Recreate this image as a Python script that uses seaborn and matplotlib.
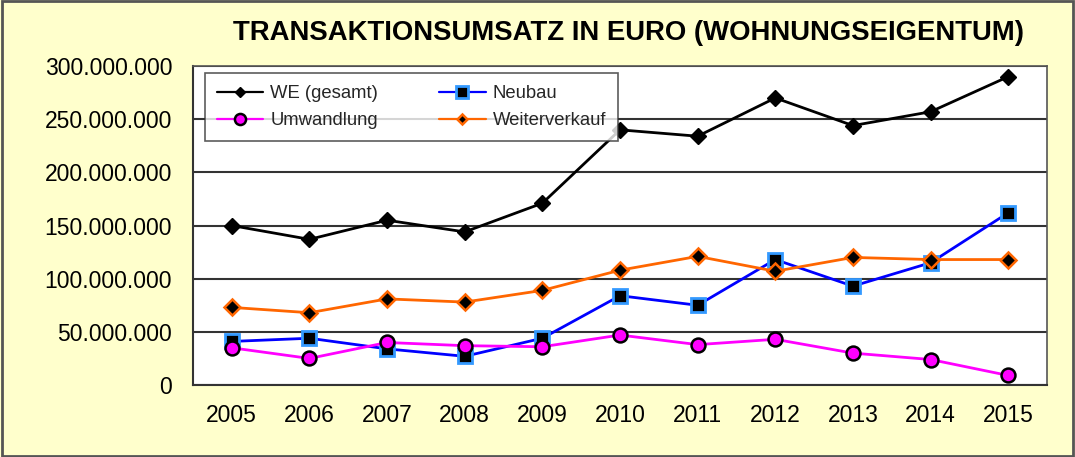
import matplotlib
matplotlib.use("Agg")
import matplotlib.pyplot as plt
from matplotlib.ticker import FuncFormatter, FixedLocator
from matplotlib.patches import Rectangle
import seaborn as sns
import pandas as pd
import numpy as np

years = ["2005", "2006", "2007", "2008", "2009", "2010", "2011", "2012", "2013", "2014", "2015"]
we_gesamt = [150e6, 137e6, 155e6, 144e6, 171e6, 240e6, 234e6, 270e6, 244e6, 257e6, 290e6]
neubau = [41e6, 44e6, 34e6, 27e6, 44e6, 84e6, 75e6, 118e6, 93e6, 115e6, 162e6]
umwandlung = [35e6, 25e6, 40e6, 37e6, 36e6, 47e6, 38e6, 43e6, 30e6, 24e6, 9e6]
weiterverkauf = [73e6, 68e6, 81e6, 78e6, 89e6, 108e6, 121e6, 107e6, 120e6, 118e6, 118e6]
series_names = ["WE (gesamt)", "Neubau", "Umwandlung", "Weiterverkauf"]
title = "TRANSAKTIONSUMSATZ IN EURO (WOHNUNGSEIGENTUM)"

sns.set_style("white")
plt.rcParams["font.family"] = ["Liberation Sans", "DejaVu Sans"]

bg = "#FFFFCC"
fig = plt.figure(figsize=(10.75, 4.57), dpi=100, facecolor=bg)
ax = fig.add_axes([0.1795, 0.1575, 0.7945, 0.698])
ax.set_facecolor("white")

x = np.arange(len(years))
styles = {
    "WE (gesamt)": dict(color="black", marker="D", markersize=8, markerfacecolor="black",
                        markeredgecolor="black", markeredgewidth=1),
    "Neubau": dict(color="#0000FF", marker="s", markersize=10, markerfacecolor="black",
                   markeredgecolor="#3399FF", markeredgewidth=2),
    "Umwandlung": dict(color="#FF00FF", marker="o", markersize=10, markerfacecolor="#FF00FF",
                       markeredgecolor="black", markeredgewidth=1.8),
    "Weiterverkauf": dict(color="#FF6600", marker="D", markersize=8, markerfacecolor="black",
                          markeredgecolor="#FF6600", markeredgewidth=1.8),
}
data = {"WE (gesamt)": we_gesamt, "Neubau": neubau, "Umwandlung": umwandlung,
        "Weiterverkauf": weiterverkauf}

for name in series_names:
    df = pd.DataFrame({"x": x, "y": data[name]})
    st = styles[name]
    sns.lineplot(data=df, x="x", y="y", ax=ax, color=st["color"], linewidth=2,
                 marker=st["marker"], markersize=st["markersize"],
                 markerfacecolor=st["markerfacecolor"], markeredgecolor=st["markeredgecolor"],
                 markeredgewidth=st["markeredgewidth"], label=name, zorder=3)

ax.set_xlim(-0.5, len(years) - 0.5)
ax.set_ylim(0, 300e6)
ax.set_yticks(np.arange(0, 300e6 + 1, 50e6))
ax.yaxis.set_major_formatter(FuncFormatter(lambda v, p: f"{int(v):,}".replace(",", ".")))
ax.xaxis.set_major_locator(FixedLocator(np.arange(-0.5, len(years), 1.0)))
ax.xaxis.set_minor_locator(FixedLocator(x))
ax.set_xticklabels([])
ax.set_xticklabels(years, minor=True)
ax.tick_params(axis="x", which="major", length=7, width=1.2, color="#333333", direction="out")
ax.tick_params(axis="x", which="minor", length=0, pad=14, labelsize=16.5, labelcolor="black")
ax.tick_params(axis="y", length=7, width=1.2, color="#333333", direction="out", labelsize=16.5,
               pad=8, labelcolor="black")
ax.yaxis.grid(True, color="#333333", linewidth=1.5)
ax.set_axisbelow(True)
ax.set_xlabel("")
ax.set_ylabel("")
for s in ["left", "bottom"]:
    ax.spines[s].set_color("#333333")
    ax.spines[s].set_linewidth(1.5)
for s in ["top", "right"]:
    ax.spines[s].set_color("#555555")
    ax.spines[s].set_linewidth(1.2)

handles, labels = ax.get_legend_handles_labels()
order = [0, 2, 1, 3]
leg = ax.legend([handles[i] for i in order], [labels[i] for i in order],
                ncol=2, loc="upper left", bbox_to_anchor=(0.014, 0.978), borderaxespad=0,
                frameon=True, fancybox=False, edgecolor="#333333", fontsize=13.3,
                handlelength=2.5, columnspacing=3.3, borderpad=0.65, labelspacing=0.55,
                handletextpad=0.4)
leg.get_frame().set_linewidth(1.2)
for h in leg.legend_handles:
    h.set_linewidth(1.6)
    if h.get_marker() == "D":
        h.set_markersize(5)
    else:
        h.set_markersize(8)

fig.text(0.585, 0.927, title, ha="center", va="center", fontsize=19.8, fontweight="bold",
         color="black")
fig.patches.append(Rectangle((0.002, 0.003), 0.996, 0.994, transform=fig.transFigure,
                             fill=False, edgecolor="#555555", linewidth=2))

fig.savefig("out.png", dpi=100, facecolor=bg)
